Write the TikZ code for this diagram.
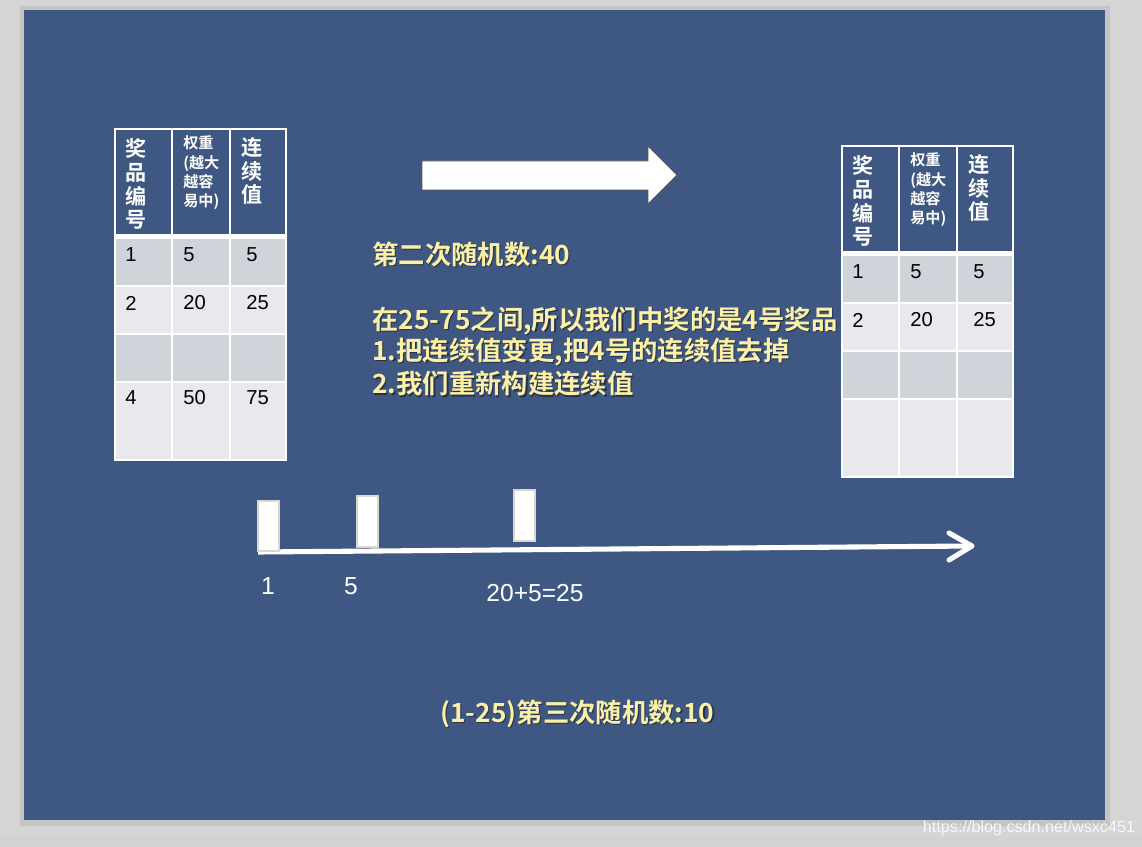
\documentclass[tikz,border=0pt]{standalone}
\usepackage{fontspec}
\setmainfont{Liberation Sans}
\newfontfamily\cjk{Noto Sans CJK SC}
\newfontfamily\cjkb{Noto Sans CJK SC Bold}
\definecolor{slide}{HTML}{3F5883}
\definecolor{pagebg}{HTML}{D5D5D5}
\definecolor{pageshadow}{HTML}{C4C4C4}
\definecolor{rowA}{HTML}{CFD3DA}
\definecolor{rowB}{HTML}{E8E9EC}
\definecolor{ylw}{HTML}{FBF0A6}
\definecolor{shd}{HTML}{26324D}
\definecolor{barline}{HTML}{D8D8D0}
\begin{document}
\begin{tikzpicture}[x=0.02cm,y=-0.02cm,
  grid/.style={draw=white,line width=1.2pt},
  hdrA/.style={text=white,font=\cjkb\fontsize{12}{13.6}\selectfont,inner sep=0,anchor=west,align=left},
  hdrB/.style={text=white,font=\cjkb\fontsize{8.6}{11}\selectfont,inner sep=0,anchor=west,align=left},
  cell/.style={text=black,font=\fontsize{11.5}{13}\selectfont,inner sep=0,anchor=west},
  ytext/.style={text=ylw,font=\cjkb\fontsize{15}{18}\selectfont,inner sep=0,anchor=west},
  yshadow/.style={text=shd,font=\cjkb\fontsize{15}{18}\selectfont,inner sep=0,anchor=west},
  numlab/.style={text=white,font=\fontsize{14}{16}\selectfont,inner sep=0},
  bar/.style={fill=white,draw=barline,line width=1.3pt}
]
\useasboundingbox (0,0) rectangle (1142,847);
% page background
\fill[pagebg] (0,0) rectangle (1142,847);
\fill[pagebg!105!white] (0,836) rectangle (1142,847);
\fill[pageshadow] (20,6) rectangle (1110,826);
\fill[slide] (24,10) rectangle (1105,820);

% yellow text (with soft shadow)
\foreach \yy/\tt/\nm in {254/第二次随机数:40/t1, 321/在25-75之间{,}所以我们中奖的是4号奖品/t2, 352/1.把连续值变更{,}把4号的连续值去掉/t3, 384/2.我们重新构建连续值/t4}{
  \node[yshadow] (\nm s) at (373.2,\yy+1.2) {\tt};
  \node[ytext] (\nm) at (372,\yy) {\tt};
}
\node[yshadow] (t5s) at (441.2,715.2) {(1-25)第三次随机数:10};
\node[ytext] (t5) at (440,714) {(1-25)第三次随机数:10};

% tables
\foreach \ox/\oy/\nm in {115/129/L, 842/146/R}{
  \begin{scope}[shift={(\ox,\oy)}, name prefix=\nm-]
    \fill[slide] (0,0) rectangle (171,106);
    \fill[rowA] (0,108) rectangle (171,156);
    \fill[rowB] (0,156) rectangle (171,204);
    \fill[rowA] (0,204) rectangle (171,253);
    \fill[rowB] (0,253) rectangle (171,331);
    \draw[grid] (0,0) rectangle (171,331);
    \draw[grid] (57,0) -- (57,331) (115,0) -- (115,331);
    \draw[grid] (0,157) -- (171,157) (0,205) -- (171,205) (0,253) -- (171,253);
    \fill[white] (0,105) rectangle (171,110.5);
    \node[hdrA] (h1) at (10,55) {奖\\品\\编\\号};
    \node[hdrB] (h2) at (68,44) {权重\\(越大\\越容\\易中)};
    \node[hdrA] (h3) at (126,42) {连\\续\\值};
    \node[cell] (c11) at (10,126) {1};
    \node[cell] (c12) at (68,126) {5};
    \node[cell] (c13) at (131,126) {5};
    \node[cell] (c21) at (10,174) {2};
    \node[cell] (c22) at (68,174) {20};
    \node[cell] (c23) at (131,174) {25};
  \end{scope}
}
\node[cell] (L-c41) at (125,398) {4};
\node[cell] (L-c42) at (183,398) {50};
\node[cell] (L-c43) at (246,398) {75};

% big block arrow
\draw[fill=white,draw=black!65,line width=0.5pt]
  (422,161) -- (648,161) -- (648,146) -- (677,175) -- (648,204) -- (648,190) -- (422,190) -- cycle;

% number line
\coordinate (nlstart) at (258,552);
\coordinate (nlend) at (972,546);
\coordinate (hu) at (949,533);
\coordinate (hd) at (949,560);
\draw[white,line width=2.9pt] (nlstart) -- (nlend);
\draw[white,line width=2.9pt,line cap=round,line join=round] (hu) -- (nlend) -- (hd);
\draw[bar] (258,501) rectangle (279,551);
\draw[bar] (357,496) rectangle (378,547);
\draw[bar] (514,490) rectangle (535,541);
\node[numlab] (n1) at (268,586) {1};
\node[numlab] (n5) at (351,586) {5};
\node[numlab] (n25) at (535,593) {20+5=25};

% watermark
\node[text=white,opacity=0.85,font=\fontsize{9.2}{11}\selectfont,inner sep=0] (wm) at (1029,828) {https://blog.csdn.net/wsxc451};
\end{tikzpicture}
\end{document}
